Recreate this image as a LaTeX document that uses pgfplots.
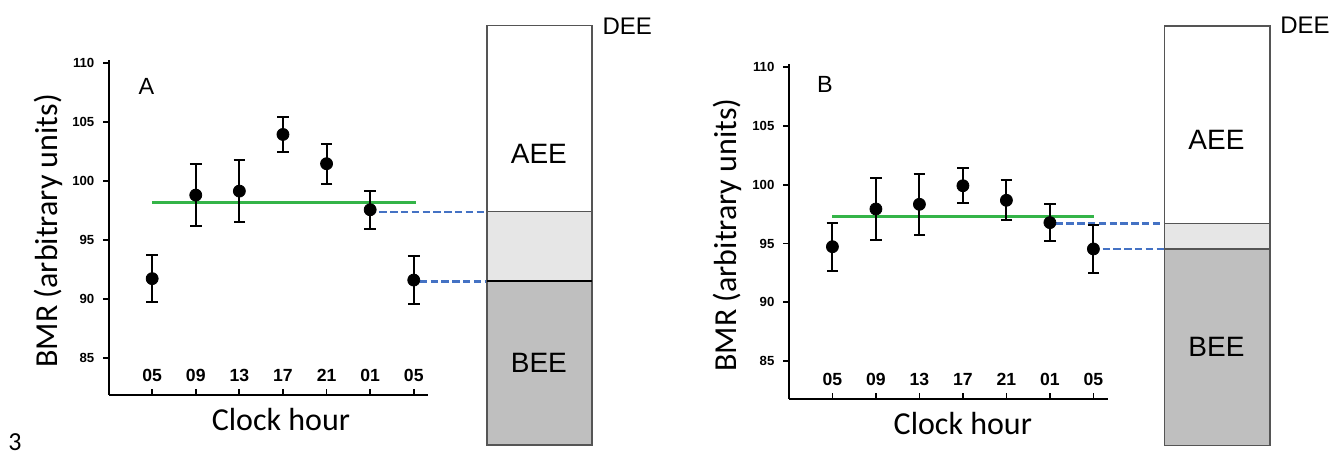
\documentclass[border=0pt]{standalone}
\usepackage{fontspec}
\setmainfont{Liberation Sans}
\newfontfamily\calfont{Carlito}
\usepackage{pgfplots}
\pgfplotsset{compat=1.18}
\usepackage{pgfplotstable}

\definecolor{grn}{RGB}{52,180,72}
\definecolor{blu}{RGB}{68,114,196}
\definecolor{lgrey}{RGB}{230,230,230}
\definecolor{dgrey}{RGB}{191,191,191}
\definecolor{edge}{RGB}{85,85,85}

\pgfplotstableread{
x y e
0 91.70 2.00
1 98.78 2.60
2 99.12 2.60
3 103.92 1.50
4 101.44 1.70
5 97.54 1.60
6 91.58 2.03
}\dataA

\pgfplotstableread{
x y e
0 94.73 2.05
1 97.94 2.65
2 98.34 2.60
3 99.92 1.50
4 98.68 1.70
5 96.78 1.60
6 94.54 2.05
}\dataB

\pgfplotsset{panel/.style={
  scale only axis, width=159.5pt, height=167.5pt, clip=false,
  axis x line=bottom, axis y line=left,
  axis line style={-, line width=1pt, black},
  tick align=outside, major tick length=2.8pt,
  tick style={black, line width=0.9pt},
  every major x tick/.append style={yshift=2.8pt},
  xtick={0,1,2,3,4,5,6}, xticklabels={05,09,13,17,21,01,05},
  xticklabel style={anchor=center, yshift=12.8pt, font=\bfseries\fontsize{8.8}{9}\selectfont},
  ytick={85,90,95,100,105,110},
  yticklabel style={xshift=-1pt, font=\bfseries\fontsize{6.6}{7}\selectfont},
  /pgf/number format/assume math mode=true,
  xlabel={Clock hour}, ylabel={BMR (arbitrary units)},
  pts/.style={only marks, mark=*, mark size=3pt, black,
    error bars/.cd, y dir=both, y explicit,
    error bar style={line width=1pt, black},
    error mark options={rotate=90, mark size=2.9pt, line width=1pt, black}},
  dsh/.style={blu, line width=1.2pt, dash pattern=on 3.7pt off 1.7pt},
  box/.style={draw=edge, line width=0.7pt},
}}

\begin{document}
\begin{tikzpicture}
\useasboundingbox (0,0) rectangle (668pt,229.5pt);

% ---------------- Panel A ----------------
\begin{axis}[panel, at={(54.5pt,32pt)}, anchor=south west,
  xmin=-0.99, xmax=6.327, ymin=81.84, ymax=110.23,
  every axis y label/.style={at={(axis description cs:-0.191,0.490)}, rotate=90, anchor=center, font=\calfont\fontsize{16}{18}\selectfont},
  every axis x label/.style={at={(axis description cs:0.539,-0.0746)}, anchor=center, font=\calfont\fontsize{16}{18}\selectfont}]
\addplot[grn, line width=1.5pt] coordinates {(0,98.19) (6.06,98.19)};
\addplot[dsh] coordinates {(5.21,97.37) (7.68,97.37)};
\addplot[dsh] coordinates {(6.14,91.47) (7.68,91.47)};
\addplot[pts] table[x=x, y=y, y error=e] {\dataA};
\addplot[box, fill=white] coordinates {(7.68,97.37) (10.09,97.37) (10.09,113.16) (7.68,113.16)} --cycle;
\addplot[box, fill=lgrey] coordinates {(7.68,91.47) (10.09,91.47) (10.09,97.37) (7.68,97.37)} --cycle;
\addplot[box, fill=dgrey] coordinates {(7.68,77.6) (10.09,77.6) (10.09,91.47) (7.68,91.47)} --cycle;
\addplot[black, line width=1pt] coordinates {(7.68,91.47) (10.09,91.47)};
\node[font=\fontsize{11.7}{13}\selectfont] at (axis cs:-0.13,108.02) {A};
\node[font=\fontsize{14}{16}\selectfont] at (axis cs:8.87,102.29) {AEE};
\node[font=\fontsize{14}{16}\selectfont] at (axis cs:8.87,84.58) {BEE};
\node[font=\fontsize{12}{14}\selectfont, anchor=west, inner sep=0pt] at (axis cs:10.32,113.1) {DEE};
\end{axis}

% ---------------- Panel B ----------------
\begin{axis}[panel, at={(394.5pt,30pt)}, anchor=south west,
  xmin=-0.998, xmax=6.336, ymin=81.77, ymax=110.28,
  every axis y label/.style={at={(axis description cs:-0.194,0.4896)}, rotate=90, anchor=center, font=\calfont\fontsize{16}{18}\selectfont},
  every axis x label/.style={at={(axis description cs:0.545,-0.0725)}, anchor=center, font=\calfont\fontsize{16}{18}\selectfont}]
\addplot[grn, line width=1.5pt] coordinates {(0,97.26) (6.02,97.26)};
\addplot[dsh] coordinates {(5.13,96.69) (7.64,96.69)};
\addplot[dsh] coordinates {(6.21,94.54) (7.64,94.54)};
\addplot[pts] table[x=x, y=y, y error=e] {\dataB};
\addplot[box, fill=white] coordinates {(7.64,96.69) (10.06,96.69) (10.06,113.51) (7.64,113.51)} --cycle;
\addplot[box, fill=lgrey] coordinates {(7.64,94.54) (10.06,94.54) (10.06,96.69) (7.64,96.69)} --cycle;
\addplot[box, fill=dgrey] coordinates {(7.64,77.8) (10.06,77.8) (10.06,94.54) (7.64,94.54)} --cycle;
\node[font=\fontsize{11.7}{13}\selectfont] at (axis cs:-0.17,108.5) {B};
\node[font=\fontsize{14}{16}\selectfont] at (axis cs:8.83,103.81) {AEE};
\node[font=\fontsize{14}{16}\selectfont] at (axis cs:8.83,86.22) {BEE};
\node[font=\fontsize{12}{14}\selectfont, anchor=west, inner sep=0pt] at (axis cs:10.29,113.6) {DEE};
\end{axis}

\node[font=\calfont\fontsize{13}{15}\selectfont] at (7.5pt,8.5pt) {3};
\end{tikzpicture}
\end{document}
